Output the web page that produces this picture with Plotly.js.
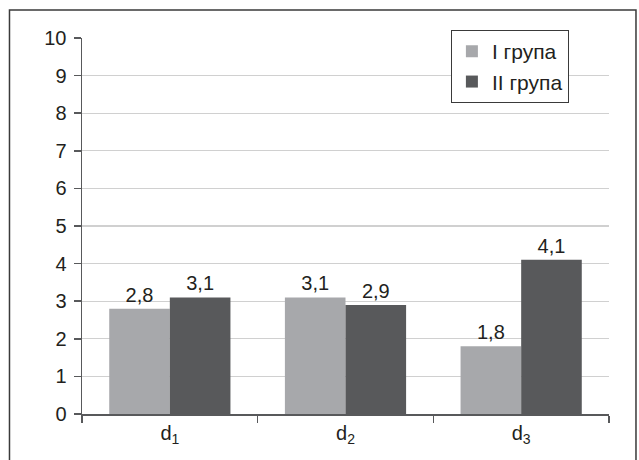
<!DOCTYPE html>
<html>
<head>
<meta charset="utf-8">
<script src="https://cdn.plot.ly/plotly-3.0.1.min.js"></script>
<style>html,body{margin:0;padding:0;background:#fff;}#chart{width:639px;height:460px;}</style>
</head>
<body>
<div id="chart"></div>
<script>
var categories = ['d<sub>1</sub>', 'd<sub>2</sub>', 'd<sub>3</sub>'];
var seriesNames = ['I група', 'II група'];
var group1 = [2.8, 3.1, 1.8];
var group2 = [3.1, 2.9, 4.1];
var yTicks = [0, 1, 2, 3, 4, 5, 6, 7, 8, 9, 10];

function fmt(v) { return v.toFixed(1).replace('.', ','); }

var font = 'Liberation Sans, Arial, sans-serif';
var traces = [
  {type: 'bar', name: seriesNames[0], x: categories, y: group1,
   text: group1.map(fmt), textposition: 'outside', cliponaxis: false,
   textfont: {family: font, size: 20, color: '#231f20'},
   marker: {color: '#a7a8ab'}},
  {type: 'bar', name: seriesNames[1], x: categories, y: group2,
   text: group2.map(fmt), textposition: 'outside', cliponaxis: false,
   textfont: {family: font, size: 20, color: '#231f20'},
   marker: {color: '#58595b'}}
];

var layout = {
  width: 639, height: 460,
  margin: {l: 82, r: 30, t: 38, b: 46},
  paper_bgcolor: '#fff', plot_bgcolor: '#fff',
  font: {family: font, size: 20, color: '#231f20'},
  barmode: 'group', bargap: 0.31, bargroupgap: 0,
  showlegend: true,
  legend: {x: 0.7, y: 1.021, xanchor: 'left', yanchor: 'top',
    bgcolor: '#fff', bordercolor: '#3a3a3a', borderwidth: 1,
    font: {family: font, size: 21, color: '#231f20'},
    itemwidth: 30, tracegroupgap: 0},
  xaxis: {type: 'category', showline: true, linecolor: '#58595b', linewidth: 1.5,
    ticks: 'outside', tickson: 'boundaries', ticklen: 7, tickcolor: '#58595b', tickwidth: 1.5,
    showgrid: false, zeroline: false, tickfont: {family: font, size: 20, color: '#231f20'}},
  yaxis: {range: [0, 10], tickvals: yTicks, ticktext: yTicks.map(String),
    showline: true, linecolor: '#58595b', linewidth: 1.5,
    ticks: 'outside', ticklen: 7, tickcolor: '#58595b', tickwidth: 1.5,
    showgrid: true, gridcolor: '#d0d0d0', gridwidth: 1.2, zeroline: false,
    ticklabelstandoff: 3,
    tickfont: {family: font, size: 20, color: '#231f20'}},
  shapes: [{type: 'rect', xref: 'paper', yref: 'paper',
    x0: -0.1376, x1: 1.0512, y0: -0.3, y1: 1.0745,
    line: {color: '#3a3a3a', width: 1.5}, fillcolor: 'rgba(0,0,0,0)', layer: 'above'}]
};

Plotly.newPlot('chart', traces, layout, {displayModeBar: false, staticPlot: true});
</script>
</body>
</html>
